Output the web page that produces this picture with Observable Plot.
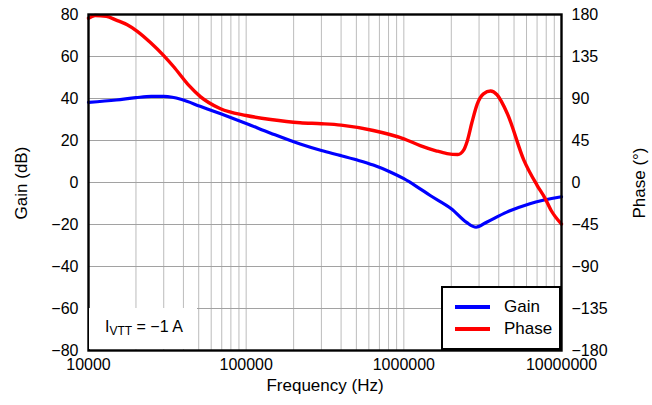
<!DOCTYPE html>
<html>
<head>
<meta charset="utf-8">
<script src="https://cdn.jsdelivr.net/npm/d3@7"></script>
<script src="https://cdn.jsdelivr.net/npm/@observablehq/plot@0.6"></script>
<style>
  html, body { margin: 0; padding: 0; background: #fff; }
  #wrap { position: relative; width: 652px; height: 405px; font-family: "Liberation Sans", Arial, sans-serif; color: #000; }
  #note { position: absolute; left: 89px; top: 308px; width: 108px; height: 41px; background: #fff; font-size: 16px; }
  #note span.t { position: absolute; left: 16px; top: 10px; white-space: nowrap; }
  #note sub { font-size: 12px; vertical-align: -3px; }
  #legend { position: absolute; left: 441px; top: 286px; width: 116px; height: 60px; background: #fff; border: 2px solid #000; font-size: 17px; }
  .row { position: absolute; left: 0; height: 20px; }
  .sw { position: absolute; left: 12px; width: 35px; height: 4px; }
  .lb { position: absolute; left: 61px; white-space: nowrap; }
  .ytitle { position: absolute; font-size: 17px; white-space: nowrap; transform: translate(-50%, -50%) rotate(-90deg); }
</style>
</head>
<body>
<div id="wrap"></div>
<script>
// ---- data ----
const gainFreq = [1e4, 1.5e4, 2e4, 2.5e4, 3e4, 3.4e4, 3.9e4, 5.1e4, 6.9e4, 1e5, 1.43e5, 2.2e5, 3e5, 4e5, 5e5, 6.4e5, 8.2e5, 1e6, 1.2e6, 1.47e6, 2e6, 2.5e6, 2.87e6, 3.35e6, 4.5e6, 6.3e6, 1e7];
const gainDb   = [38.2, 39.3, 40.4, 41.0, 41.0, 40.6, 39.5, 36.3, 32.7, 28.1, 23.5, 18.3, 15.2, 12.8, 10.8, 8.3, 5.0, 1.8, -1.8, -6.2, -12.5, -19, -21.3, -18.9, -14.1, -10.1, -6.8];

const phaseFreq = [1e4, 1.1e4, 1.3e4, 1.5e4, 1.76e4, 2.04e4, 2.47e4, 3.0e4, 3.47e4, 4.33e4, 5.12e4, 6.87e4, 1e5, 1.43e5, 2.2e5, 3e5, 4e5, 6.4e5, 1e6, 1.27e6, 1.6e6, 1.88e6, 2.2e6, 2.4e6, 2.52e6, 2.7e6, 2.92e6, 3.2e6, 3.55e6, 3.9e6, 4.53e6, 5.77e6, 7e6, 7.9e6, 8.6e6, 1e7];
const phaseDeg  = [176, 179, 178, 174, 169, 162, 150, 136, 124, 104, 92, 79, 71.8, 67.5, 64, 63, 61.5, 55.7, 46.8, 39.6, 34, 31, 30, 35, 44, 64, 84, 95, 98, 94, 74, 24, -3, -17.5, -30, -44.5];

const xTicks = [1e4, 1e5, 1e6, 1e7];
const gainTicks = [-80, -60, -40, -20, 0, 20, 40, 60, 80];
const phaseTicks = [-180, -135, -90, -45, 0, 45, 90, 135, 180];
const gridGain = [-60, -40, -20, 0, 20, 40, 60];
const gridFreq = [2e4,3e4,4e4,5e4,6e4,7e4,8e4,9e4,1e5,2e5,3e5,4e5,5e5,6e5,7e5,8e5,9e5,1e6,2e6,3e6,4e6,5e6,6e6,7e6,8e6,9e6];

const gainRows = gainFreq.map((f, i) => ({f, v: gainDb[i]}));
const phaseRows = phaseFreq.map((f, i) => ({f, v: phaseDeg[i]}));
const toGain = p => p * 80 / 180;
const minus = s => String(s).replace("-", "\u2212");

const chart = Plot.plot({
  width: 652,
  height: 405,
  marginLeft: 88,
  marginRight: 91,
  marginTop: 14,
  marginBottom: 55,
  x: {type: "log", domain: [1e4, 1e7]},
  y: {domain: [-80, 80]},
  style: {fontFamily: "'Liberation Sans', Arial, sans-serif", fontSize: "16px", color: "#000", background: "#fff"},
  marks: [
    Plot.ruleX(gridFreq, {stroke: "#bcbcbc", strokeWidth: 1}),
    Plot.ruleY(gridGain, {stroke: "#a2a2a2", strokeWidth: 1}),
    Plot.line(gainRows, {x: "f", y: "v", stroke: "#0000ff", strokeWidth: 3.2, curve: "monotone-x"}),
    Plot.line(phaseRows, {x: "f", y: d => toGain(d.v), stroke: "#ff0000", strokeWidth: 3.4, curve: "monotone-x"}),
    Plot.frame({stroke: "#000", strokeWidth: 2.4}),
    Plot.axisX({ticks: xTicks, tickFormat: d => String(d), tickSize: 0, tickPadding: 8, label: null, fontSize: 16}),
    Plot.axisY({anchor: "left", ticks: gainTicks, tickFormat: d => minus(d), tickSize: 0, tickPadding: 10, label: null, fontSize: 16}),
    Plot.axisY({anchor: "right", ticks: gainTicks, tickFormat: d => minus(phaseTicks[gainTicks.indexOf(d)]), tickSize: 0, tickPadding: 10, label: null, fontSize: 16}),
    Plot.text(["Frequency (Hz)"], {frameAnchor: "bottom", dy: 40, fontSize: 17})
  ]
});

const wrap = document.getElementById("wrap");
wrap.appendChild(chart);

const titles = [{text: "Gain (dB)", left: 22}, {text: "Phase (°)", left: 640}];
titles.forEach(t => {
  const d = document.createElement("div");
  d.className = "ytitle";
  d.style.left = t.left + "px";
  d.style.top = "183px";
  d.textContent = t.text;
  wrap.appendChild(d);
});

const note = document.createElement("div");
note.id = "note";
note.innerHTML = '<span class="t">I<sub>VTT</sub> = \u22121 A</span>';
wrap.appendChild(note);

const legend = document.createElement("div");
legend.id = "legend";
const series = [{name: "Gain", color: "#0000ff", top: 9}, {name: "Phase", color: "#ff0000", top: 31}];
series.forEach(s => {
  const row = document.createElement("div");
  row.className = "row";
  row.style.top = s.top + "px";
  row.innerHTML = `<div class="sw" style="top:8px;background:${s.color}"></div><div class="lb" style="top:0">${s.name}</div>`;
  legend.appendChild(row);
});
wrap.appendChild(legend);
</script>
</body>
</html>
